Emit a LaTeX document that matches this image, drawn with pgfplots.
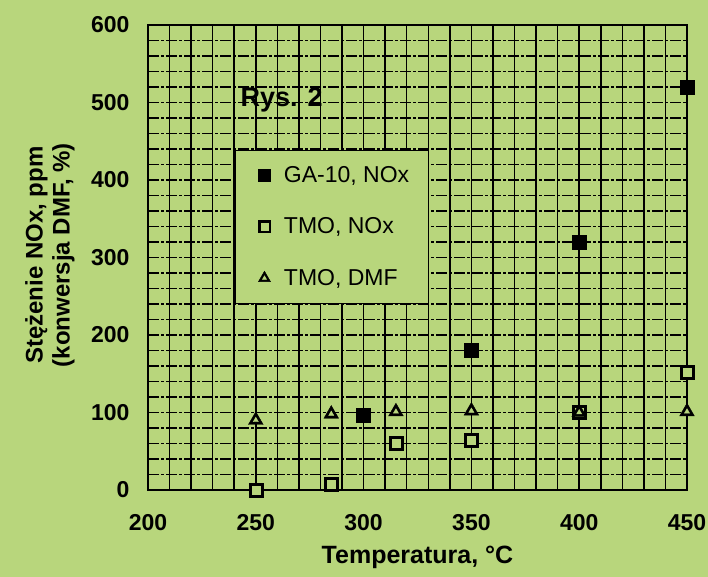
\documentclass[border=0pt]{standalone}
\usepackage{fontspec}
\setmainfont{Liberation Sans}
\usepackage{pgfplots}
\pgfplotsset{compat=1.18}
\definecolor{bg}{RGB}{184,214,124}
\begin{document}
\begin{tikzpicture}
\fill[bg] (-148pt,-87pt) rectangle (560pt,490pt);
\useasboundingbox (-148pt,-87pt) rectangle (560pt,490pt);
\begin{axis}[at={(0,0)}, anchor=south west, scale only axis,
  width=539pt, height=465pt,
  xmin=200, xmax=450, ymin=0, ymax=600,
  xtick={200,250,...,450}, ytick={0,100,...,600},
  minor x tick num=4, minor y tick num=4,
  grid=both,
  grid style={line width=1.5pt, black},
  y grid style={dash pattern=on 11pt off 2pt on 3pt off 2pt},
  major tick length=0pt, minor tick length=0pt,
  axis line style={line width=2.5pt},
  clip=false,
  /pgf/number format/assume math mode=true,
  tick label style={font=\fontsize{23}{23}\selectfont\bfseries},
  xticklabel style={yshift=-21pt},
  yticklabel style={xshift=-15pt},
  xlabel={Temperatura, °C},
  xlabel style={font=\fontsize{25}{25}\selectfont\bfseries, at={(axis description cs:0.5,0)}, anchor=center, yshift=-67pt},
  ylabel={Stężenie NOx, ppm\\(konwersja DMF, \%)},
  ylabel style={font=\fontsize{24}{27}\selectfont\bfseries, align=center, at={(axis description cs:-0.182,0.505)}, anchor=center},
  legend style={at={(axis description cs:0.161,0.731)}, anchor=north west,
    fill=bg, draw=black, font=\fontsize{23}{23}\selectfont,
    row sep=30pt, inner xsep=17pt, inner ysep=14pt},
  legend cell align=left,
]
% GA-10, NOx
\addplot[only marks, mark=square*, mark size=7pt, mark options={draw=black, fill=black},
  legend image code/.code={\path[draw=none,fill=none] (0,0) -- (30pt,0);
    \draw[mark size=6pt] plot coordinates {(12.5pt,0pt)};}]
  coordinates {(300,96) (350,181) (400,320) (450,520)};
\addlegendentry{GA-10, NOx}
% TMO, NOx (outer)
\addplot[only marks, mark=square*, mark size=7pt, mark options={draw=black, fill=black},
  legend image code/.code={\path[draw=none,fill=none] (0,0) -- (30pt,0);
    \draw[mark size=6pt] plot coordinates {(12.5pt,0pt)};
    \draw[mark size=3.6pt, mark options={draw=bg, fill=bg}] plot coordinates {(12.5pt,0pt)};}]
  coordinates {(250,0) (285,8) (315,60) (350,64) (400,100) (450,152)};
\addlegendentry{TMO, NOx}
% TMO, NOx (hole)
\addplot[forget plot, only marks, mark=square*, mark size=4pt, mark options={draw=bg, fill=bg}]
  coordinates {(250,0) (285,8) (315,60) (350,64) (400,100) (450,152)};
% TMO, DMF (outer)
\addplot[only marks, mark=triangle*, mark size=8.5pt, mark options={draw=black, fill=black},
  legend image code/.code={\path[draw=none,fill=none] (0,0) -- (30pt,0);
    \draw[mark size=7pt] plot coordinates {(12.5pt,0pt)};
    \draw[mark size=2.4pt, mark options={draw=bg, fill=bg}] plot coordinates {(12.5pt,0pt)};}]
  coordinates {(250,90) (285,98) (315,101) (350,102) (400,100) (450,101)};
\addlegendentry{TMO, DMF}
% TMO, DMF (hole)
\addplot[forget plot, only marks, mark=triangle*, mark size=3pt, mark options={draw=bg, fill=bg}]
  coordinates {(250,90) (285,98) (315,101) (350,102) (400,100) (450,101)};
\node[font=\fontsize{27}{27}\selectfont\bfseries] at (axis cs:262,504) {Rys. 2};
\end{axis}
\end{tikzpicture}
\end{document}
